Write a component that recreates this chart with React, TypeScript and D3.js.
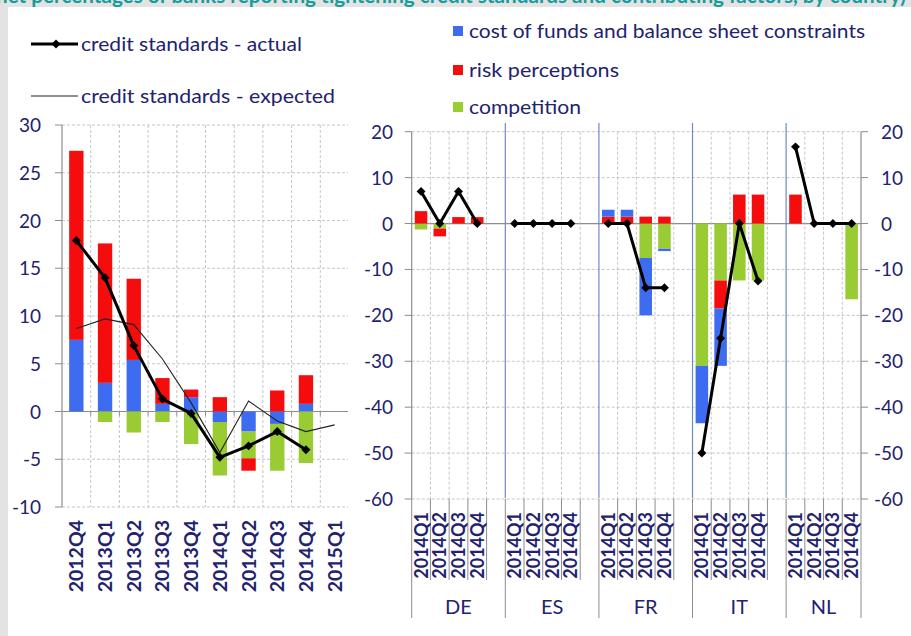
import React from 'react';
import * as d3 from 'd3';

// ---------- data: left panel (euro area) ----------
const leftCategories = ['2012Q4', '2013Q1', '2013Q2', '2013Q3', '2013Q4', '2014Q1', '2014Q2', '2014Q3', '2014Q4', '2015Q1'];
const leftCost = [7.5, 3.0, 5.4, 0.8, 1.5, -1.1, -2.1, -1.3, 0.8, 0];
const leftRisk = [19.8, 14.6, 8.5, 2.7, 0.8, 1.5, -1.3, 2.2, 3.0, 0];
const leftCompetition = [0, -1.1, -2.2, -1.1, -3.4, -5.6, -2.8, -4.9, -5.4, 0];
const leftActual: (number | null)[] = [17.9, 14.0, 6.9, 1.3, -0.2, -4.8, -3.6, -2.1, -4.0, null];
const leftExpected = [8.7, 9.7, 9.1, 5.5, 0.9, -4.3, 1.1, -1.0, -2.1, -1.4];
const leftTicks = [30, 25, 20, 15, 10, 5, 0, -5, -10];

// ---------- data: right panel (countries, 2014Q1..Q4 each) ----------
const countries = ['DE', 'ES', 'FR', 'IT', 'NL'];
const quarters = ['2014Q1', '2014Q2', '2014Q3', '2014Q4'];
// ordered DE, ES, FR, IT, NL; four quarters each
const rightCost = [0, 0, 0, 0, 0, 0, 0, 0, 1.5, 1.5, -12.5, -0.5, -12.5, -12.5, 0, 0, 0, 0, 0, 0];
const rightRisk = [2.7, -1.7, 1.4, 1.4, 0, 0, 0, 0, 1.5, 1.5, 1.5, 1.5, 0, -6.1, 6.3, 6.3, 6.3, 0, 0, 0];
const rightCompetition = [-1.3, -1.1, 0, 0, 0, 0, 0, 0, 0, 0, -7.5, -5.5, -31, -12.4, -12.4, -12.4, 0, 0, 0, -16.5];
const rightActual = [7, 0, 7, 0, 0, 0, 0, 0, 0, 0, -14, -14, -50, -25, 0, -12.5, 16.7, 0, 0, 0];
const rightTicks = [20, 10, 0, -10, -20, -30, -40, -50, -60];

const legendLines = ['credit standards - actual', 'credit standards - expected'];
const legendBars = ['cost of funds and balance sheet constraints', 'risk perceptions', 'competition'];
const titleText = 'net percentages of banks reporting tightening credit standards and contributing factors, by country)';

const COLORS: Record<string, string> = { cost: '#3d6cf0', risk: '#f50d0d', competition: '#99cc33' };
const NAVY = '#22226e';
const FONT = "Lato, 'Open Sans', sans-serif";
const GRID = '#b8b8b8';
const AXIS = '#8c8c8c';

const diamond = d3.symbol(d3.symbolSquare, 40)() as string;

export default function App() {
  // ----- left panel scales -----
  const xL = d3.scaleBand<string>().domain(leftCategories).range([62, 349]);
  const xLbar = d3.scaleBand<string>().domain(leftCategories).range([62, 349]).paddingInner(0.5).paddingOuter(0.25);
  const yL = d3.scaleLinear().domain([-10, 30]).range([507, 125]);
  const leftRows = leftCategories.map((c, i) => ({ cat: c, cost: leftCost[i], competition: leftCompetition[i], risk: leftRisk[i] }));
  const leftStack = d3.stack<any>().keys(['cost', 'competition', 'risk']).offset(d3.stackOffsetDiverging)(leftRows);
  const cxL = (c: string) => (xL(c) as number) + xL.bandwidth() / 2;
  const lineLActual = d3.line<number | null>()
    .defined((d) => d != null)
    .x((_, i) => cxL(leftCategories[i]))
    .y((d) => yL(d as number));
  const lineLExpected = d3.line<number>()
    .x((_, i) => cxL(leftCategories[i]))
    .y((d) => yL(d));

  // ----- right panel scales -----
  const nSlots = countries.length * 5 - 1;
  const slotOf = (ci: number, qi: number) => ci * 5 + qi;
  const xR = d3.scaleBand<number>().domain(d3.range(nSlots)).range([411.7, 861]);
  const xRbar = d3.scaleBand<number>().domain(d3.range(nSlots)).range([411.7, 861]).paddingInner(0.33).paddingOuter(0.165);
  const yR = d3.scaleLinear().domain([-60, 20]).range([499, 131.7]);
  const rightRows = rightCost.map((_, k) => ({
    slot: slotOf(Math.floor(k / 4), k % 4),
    competition: rightCompetition[k], risk: rightRisk[k], cost: rightCost[k],
  }));
  const rightStack = d3.stack<any>().keys(['competition', 'risk', 'cost']).offset(d3.stackOffsetDiverging)(rightRows);
  const cxR = (s: number) => (xR(s) as number) + xR.bandwidth() / 2;
  const step = xR.step();
  const rx0 = 411.7, rx1 = 861;

  const yLzero = yL(0);

  return (
    <svg width={911} height={636} style={{ position: 'absolute', left: 0, top: 0, display: 'block' }} fontFamily={FONT}>
      {/* frame */}
      <rect x={0} y={0} width={911} height={636} fill="#e3e3e3" />
      <text x={-4} y={2.5} fontSize={21} fontWeight={700} fill="#179c9c" textLength={910} lengthAdjust="spacingAndGlyphs">{titleText}</text>
      <rect x={8} y={7} width={903} height={629} fill="#ffffff" />

      {/* ============ LEFT PANEL ============ */}
      {leftTicks.map((t) => (
        <line key={'lg' + t} x1={62} x2={348} y1={yL(t)} y2={yL(t)} stroke={t === 0 ? AXIS : GRID} strokeWidth={t === 0 ? 1.2 : 0.8} strokeDasharray={t === 0 ? undefined : '3,2'} />
      ))}
      {leftCategories.slice(1).map((c) => (
        <line key={'lv' + c} x1={xL(c)} x2={xL(c)} y1={125} y2={507} stroke={GRID} strokeWidth={0.8} strokeDasharray="3,2" />
      ))}
      {leftCategories.slice(1).map((c) => (
        <line key={'lt' + c} x1={xL(c)} x2={xL(c)} y1={yLzero} y2={yLzero + 4} stroke={AXIS} strokeWidth={1} />
      ))}
      <line x1={62} x2={62} y1={125} y2={507} stroke={AXIS} strokeWidth={1.2} />
      {leftTicks.map((t) => (
        <g key={'lt' + t}>
          <line x1={55} x2={62} y1={yL(t)} y2={yL(t)} stroke={AXIS} strokeWidth={1} />
          <text x={41} y={yL(t) + 7} textAnchor="end" fontSize={19} fill={NAVY}>{t}</text>
        </g>
      ))}
      {leftStack.map((s) => (
        <g key={'ls' + s.key} fill={COLORS[s.key]}>
          {s.map((d, i) => {
            const y0 = yL(d[0]), y1 = yL(d[1]);
            const h = Math.abs(y0 - y1);
            if (h < 0.01) return null;
            return <rect key={i} x={xLbar(leftCategories[i])} width={xLbar.bandwidth()} y={Math.min(y0, y1)} height={h} />;
          })}
        </g>
      ))}
      <path d={lineLExpected(leftExpected) as string} fill="none" stroke="#222" strokeWidth={1.1} />
      <path d={lineLActual(leftActual) as string} fill="none" stroke="#000" strokeWidth={3} strokeLinejoin="round" />
      {leftActual.map((v, i) => v == null ? null : (
        <path key={'ld' + i} d={diamond} transform={`translate(${cxL(leftCategories[i])},${yL(v)}) rotate(45)`} fill="#000" />
      ))}
      {leftCategories.map((c) => (
        <text key={'lx' + c} transform={`translate(${cxL(c) + 7},520) rotate(-90)`} textAnchor="end" fontSize={19.5} fontWeight={700} fill={NAVY}>{c}</text>
      ))}

      {/* legend - lines */}
      <line x1={31} x2={78} y1={44} y2={44} stroke="#000" strokeWidth={3} />
      <path d={diamond} transform="translate(56,44) rotate(45)" fill="#000" />
      <text x={81} y={51} fontSize={19} fill={NAVY} textLength={221} lengthAdjust="spacingAndGlyphs">{legendLines[0]}</text>
      <line x1={31} x2={78} y1={96} y2={96} stroke="#222" strokeWidth={1.1} />
      <text x={81} y={103} fontSize={19} fill={NAVY} textLength={254} lengthAdjust="spacingAndGlyphs">{legendLines[1]}</text>

      {/* ============ RIGHT PANEL ============ */}
      {rightTicks.map((t) => (
        <line key={'rg' + t} x1={rx0} x2={rx1} y1={yR(t)} y2={yR(t)} stroke={t === 0 ? AXIS : GRID} strokeWidth={t === 0 ? 1.2 : 0.8} strokeDasharray={t === 0 ? undefined : '3,2'} />
      ))}
      {d3.range(1, nSlots).map((k) => (
        k % 5 === 0 ? null :
          <line key={'rv' + k} x1={rx0 + k * step} x2={rx0 + k * step} y1={yR(20)} y2={yR(-60)} stroke={GRID} strokeWidth={0.8} strokeDasharray="3,2" />
      ))}
      {d3.range(1, countries.length).map((ci) => (
        <line key={'rs' + ci} x1={rx0 + ci * 5 * step} x2={rx0 + ci * 5 * step} y1={123} y2={498} stroke="#6d8cc0" strokeWidth={1.2} />
      ))}
      <line x1={rx0} x2={rx0} y1={yR(20)} y2={yR(-60)} stroke={AXIS} strokeWidth={1.2} />
      <line x1={rx1} x2={rx1} y1={yR(20)} y2={yR(-60)} stroke={AXIS} strokeWidth={1.2} />
      {rightTicks.map((t) => (
        <g key={'rt' + t}>
          <line x1={rx0 - 7} x2={rx0} y1={yR(t)} y2={yR(t)} stroke={AXIS} strokeWidth={1} />
          <line x1={rx1} x2={rx1 + 7} y1={yR(t)} y2={yR(t)} stroke={AXIS} strokeWidth={1} />
          <text x={393} y={yR(t) + 7} textAnchor="end" fontSize={19} fill={NAVY}>{t}</text>
          <text x={t < 0 ? 874 : 881} y={yR(t) + 7} textAnchor="start" fontSize={19} fill={NAVY}>{t}</text>
        </g>
      ))}
      {rightStack.map((s) => (
        <g key={'rsb' + s.key} fill={COLORS[s.key]}>
          {s.map((d, i) => {
            const y0 = yR(d[0]), y1 = yR(d[1]);
            const h = Math.abs(y0 - y1);
            if (h < 0.01) return null;
            return <rect key={i} x={xRbar(rightRows[i].slot)} width={xRbar.bandwidth()} y={Math.min(y0, y1)} height={h} />;
          })}
        </g>
      ))}
      {countries.map((c, ci) => {
        const vals = quarters.map((_, qi) => rightActual[ci * 4 + qi]);
        const pts = vals.map((v, qi) => [cxR(slotOf(ci, qi)), yR(v)] as [number, number]);
        const path = d3.line<[number, number]>()(pts) as string;
        return (
          <g key={'ra' + c}>
            <path d={path} fill="none" stroke="#000" strokeWidth={3} strokeLinejoin="round" />
            {pts.map((p, qi) => (
              <path key={qi} d={diamond} transform={`translate(${p[0]},${p[1]}) rotate(45)`} fill="#000" />
            ))}
          </g>
        );
      })}
      {d3.range(0, nSlots + 1).map((k) => {
        const isGroup = k % 5 === 0 || k === nSlots;
        return <line key={'rd' + k} x1={rx0 + k * step} x2={rx0 + k * step} y1={yR(-60)} y2={isGroup ? 618 : 580} stroke={AXIS} strokeWidth={1} />;
      })}
      {countries.map((c, ci) => (
        <g key={'rl' + c}>
          {quarters.map((q, qi) => (
            <text key={q} transform={`translate(${cxR(slotOf(ci, qi)) + 6.5},512) rotate(-90)`} textAnchor="end" fontSize={18} fontWeight={700} fill={NAVY}>{q}</text>
          ))}
          <text x={ci < 4 ? rx0 + (ci * 5 + 2.5) * step : rx0 + (ci * 5 + 2) * step} y={614} textAnchor="middle" fontSize={20} fill={NAVY}>{c}</text>
        </g>
      ))}

      {/* legend - bars */}
      {legendBars.map((t, i) => {
        const key = ['cost', 'risk', 'competition'][i];
        const cy = [31, 70, 107][i];
        return (
          <g key={'lb' + i}>
            <rect x={453} y={cy - 5} width={10} height={10} fill={COLORS[key]} />
            <text x={469} y={cy + 7} fontSize={19} fill={NAVY} textLength={[396, 150, 112][i]} lengthAdjust="spacingAndGlyphs">{t}</text>
          </g>
        );
      })}
    </svg>
  );
}
